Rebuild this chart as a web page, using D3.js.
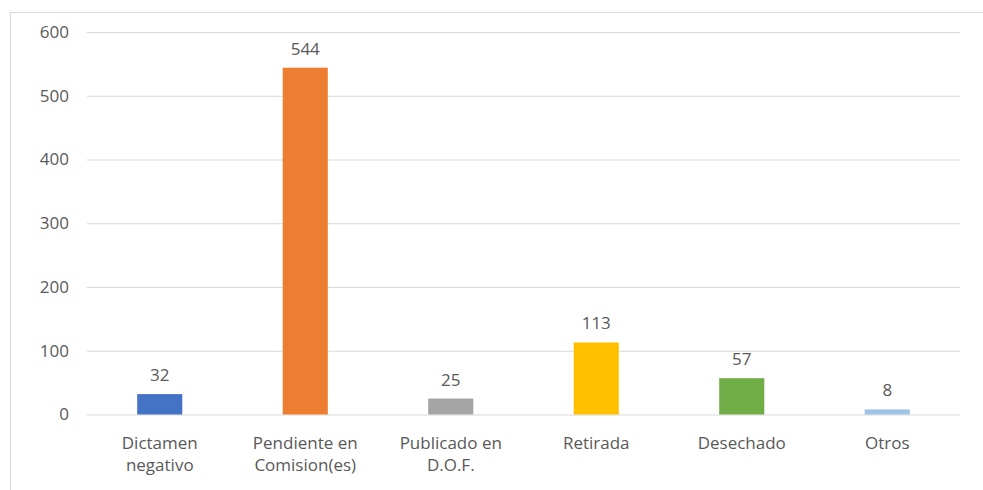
<!DOCTYPE html>
<html>
<head>
<meta charset="utf-8">
<script src="https://cdn.jsdelivr.net/npm/d3@7/dist/d3.min.js"></script>
<style>
  body { margin: 0; background: #fff; }
  svg { display: block; }
  text { font-family: "Open Sans", sans-serif; fill: #595959; }
</style>
</head>
<body>
<svg width="983" height="490"></svg>
<script>
// data
var categories = [["Dictamen", "negativo"], ["Pendiente en", "Comision(es)"], ["Publicado en", "D.O.F."], ["Retirada"], ["Desechado"], ["Otros"]];
var values = [32, 544, 25, 113, 57, 8];
var colors = ["#4472C4", "#ED7D31", "#A5A5A5", "#FFC000", "#70AD47", "#9DC3E6"];
var yTicks = [0, 100, 200, 300, 400, 500, 600];

var svg = d3.select("svg");

// marco del grafico
svg.append("rect")
  .attr("x", 10.5).attr("y", 12.5)
  .attr("width", 990).attr("height", 500)
  .attr("fill", "none")
  .attr("stroke", "#d9d9d9");

var xScale = d3.scaleBand()
  .domain(d3.range(values.length))
  .range([87, 960])
  .paddingInner(0.69)
  .paddingOuter(0.345);

var yScale = d3.scaleLinear().domain([0, 600]).range([414.5, 32]);

// lineas de cuadricula + etiquetas eje y
var yAxis = svg.append("g")
  .attr("transform", "translate(87,0)")
  .call(d3.axisLeft(yScale).tickValues(yTicks).tickSize(-873).tickPadding(18));
yAxis.select(".domain").remove();
yAxis.selectAll(".tick line").attr("stroke", "#d9d9d9");
yAxis.selectAll(".tick text")
  .attr("font-size", "17px")
  .attr("font-family", "Open Sans, sans-serif")
  .attr("fill", "#595959");

// barras
svg.selectAll(".bar")
  .data(values)
  .enter().append("rect")
  .attr("class", "bar")
  .attr("x", function(d, i){ return xScale(i); })
  .attr("y", function(d){ return yScale(d); })
  .attr("width", xScale.bandwidth())
  .attr("height", function(d){ return yScale(0) - yScale(d); })
  .attr("fill", function(d, i){ return colors[i]; });

// etiquetas de valor
svg.selectAll(".val")
  .data(values)
  .enter().append("text")
  .attr("class", "val")
  .attr("x", function(d, i){ return xScale(i) + xScale.bandwidth() / 2; })
  .attr("y", function(d){ return yScale(d) - 13; })
  .attr("text-anchor", "middle")
  .attr("font-size", "17px")
  .text(function(d){ return d; });

// etiquetas de categoria
var cat = svg.selectAll(".cat")
  .data(categories)
  .enter().append("text")
  .attr("class", "cat")
  .attr("text-anchor", "middle")
  .attr("font-size", "17px")
  .attr("x", function(d, i){ return xScale(i) + xScale.bandwidth() / 2; })
  .attr("y", 449);
cat.selectAll("tspan")
  .data(function(d){ return d; })
  .enter().append("tspan")
  .attr("x", function(){ return d3.select(this.parentNode).attr("x"); })
  .attr("dy", function(d, i){ return i === 0 ? 0 : 22; })
  .text(function(d){ return d; });
</script>
</body>
</html>
